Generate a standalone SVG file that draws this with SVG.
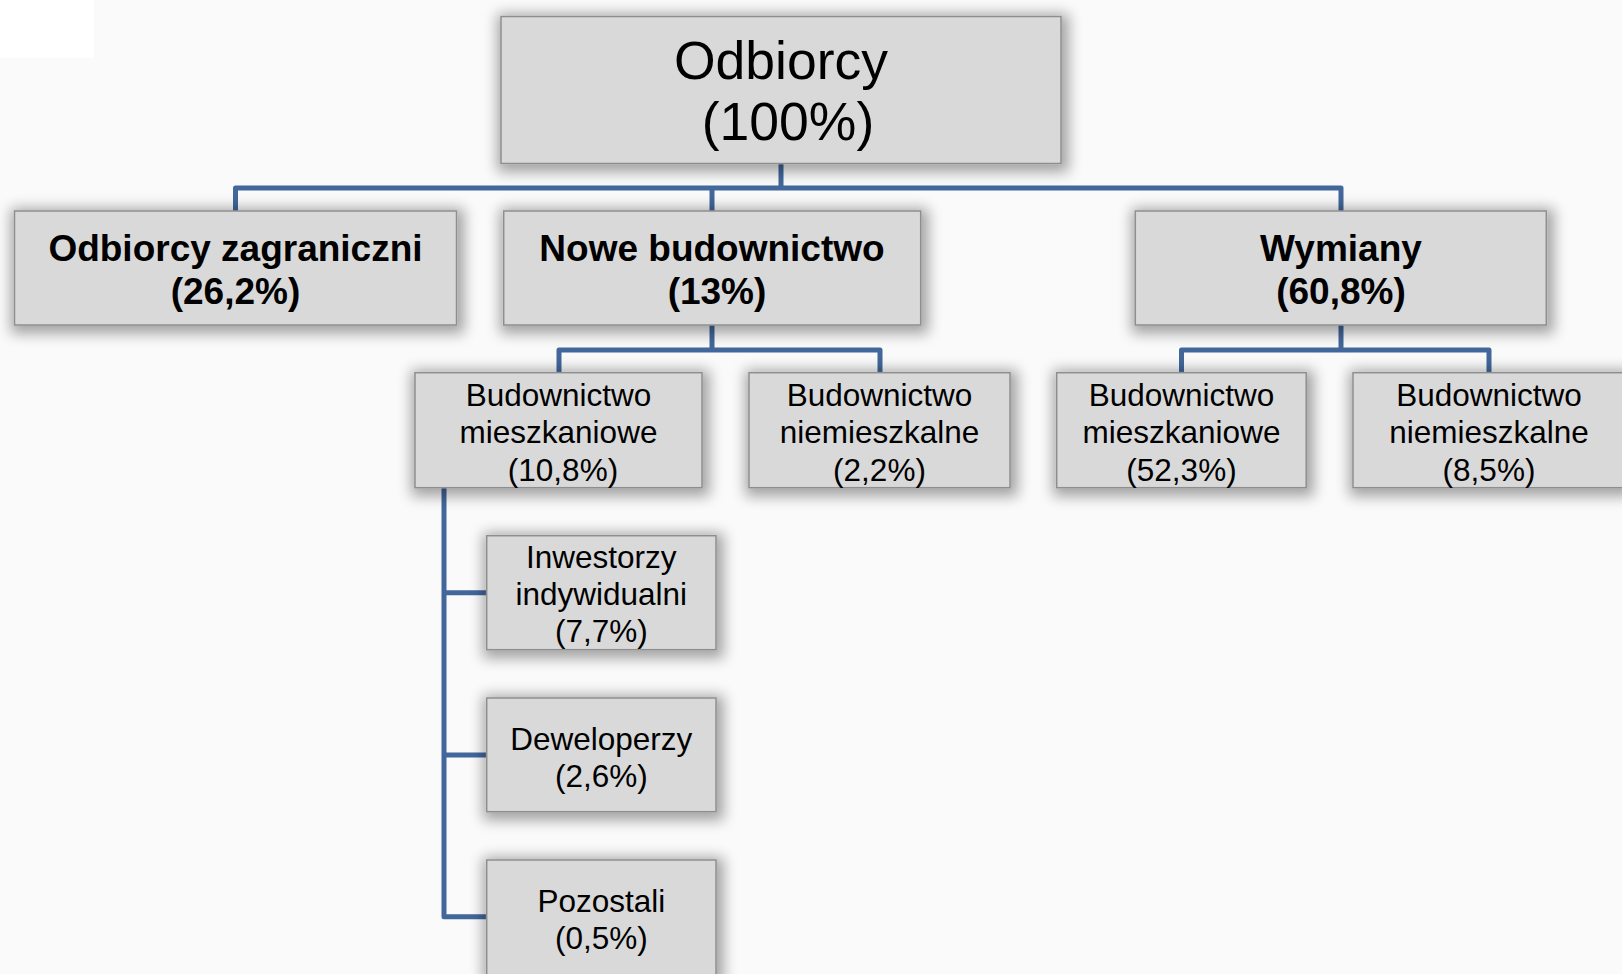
<svg xmlns="http://www.w3.org/2000/svg" width="1622" height="974" viewBox="0 0 1622 974">
<style>
.box{fill:#d9d9d9;stroke:#8e8e8e;stroke-width:1.5;filter:url(#glow)}
.t{font-family:"Liberation Sans",Arial,sans-serif;fill:#000;text-anchor:middle}
.t0{font-size:53.5px}
.t1{font-size:37px;font-weight:bold}
.t2{font-size:31.5px}
.c{fill:none;stroke:#41679b;stroke-width:5;stroke-linejoin:round;stroke-linecap:butt}
</style>
<defs>
<filter id="glow" x="-20%" y="-30%" width="140%" height="160%">
<feMorphology in="SourceAlpha" operator="dilate" radius="5" result="d"/>
<feGaussianBlur in="d" stdDeviation="7" result="b"/>
<feOffset in="b" dx="2" dy="3" result="o"/>
<feComponentTransfer in="o" result="s"><feFuncA type="linear" slope="0.35"/></feComponentTransfer>
<feMerge><feMergeNode in="s"/><feMergeNode in="SourceGraphic"/></feMerge>
</filter>
</defs>
<rect x="0" y="0" width="1622" height="974" fill="#fafafa"/>
<rect x="0" y="0" width="94" height="58" fill="#ffffff"/>
<g id="connectors">
<path class="c" d="M781 163 V188"/>
<path class="c" d="M235.5 211 V188 H1341 V211"/>
<path class="c" d="M712 188 V211"/>
<path class="c" d="M712 325 V350"/>
<path class="c" d="M559 372.7 V350 H880 V372.7"/>
<path class="c" d="M1341 325 V350"/>
<path class="c" d="M1181.5 372.7 V350 H1489 V372.7"/>
<path class="c" d="M444 487.7 V916.7 H486.7"/>
<path class="c" d="M444 592.7 H486.7"/>
<path class="c" d="M444 755 H486.7"/>
</g>
<g id="root">
<rect class="box" x="501" y="16.5" width="560" height="147"/>
<text class="t t0" x="781" y="79">Odbiorcy</text>
<text class="t t0" x="788" y="140">(100%)</text>
</g>
<g id="zagraniczni">
<rect class="box" x="14.5" y="211" width="442" height="114"/>
<text class="t t1" x="235.5" y="261">Odbiorcy zagraniczni</text>
<text class="t t1" x="235.5" y="304">(26,2%)</text>
</g>
<g id="nowe">
<rect class="box" x="503.7" y="211" width="417" height="114"/>
<text class="t t1" x="712" y="261">Nowe budownictwo</text>
<text class="t t1" x="717" y="304">(13%)</text>
</g>
<g id="wymiany">
<rect class="box" x="1135.3" y="211" width="411" height="114"/>
<text class="t t1" x="1341" y="261">Wymiany</text>
<text class="t t1" x="1341" y="304">(60,8%)</text>
</g>
<g id="nowe-mieszkaniowe">
<rect class="box" x="415" y="372.7" width="287" height="115"/>
<text class="t t2" x="558.5" y="405.5">Budownictwo</text>
<text class="t t2" x="558.5" y="443">mieszkaniowe</text>
<text class="t t2" x="563" y="480.5">(10,8%)</text>
</g>
<g id="nowe-niemieszkalne">
<rect class="box" x="749" y="372.7" width="261" height="115"/>
<text class="t t2" x="879.5" y="405.5">Budownictwo</text>
<text class="t t2" x="879.5" y="443">niemieszkalne</text>
<text class="t t2" x="879.5" y="480.5">(2,2%)</text>
</g>
<g id="wymiany-mieszkaniowe">
<rect class="box" x="1056.7" y="372.7" width="249.5" height="115"/>
<text class="t t2" x="1181.5" y="405.5">Budownictwo</text>
<text class="t t2" x="1181.5" y="443">mieszkaniowe</text>
<text class="t t2" x="1181.5" y="480.5">(52,3%)</text>
</g>
<g id="wymiany-niemieszkalne">
<rect class="box" x="1353" y="372.7" width="272" height="115"/>
<text class="t t2" x="1489" y="405.5">Budownictwo</text>
<text class="t t2" x="1489" y="443">niemieszkalne</text>
<text class="t t2" x="1489" y="480.5">(8,5%)</text>
</g>
<g id="inwestorzy">
<rect class="box" x="486.7" y="535.7" width="229.3" height="114"/>
<text class="t t2" x="601.3" y="568.2">Inwestorzy</text>
<text class="t t2" x="601.3" y="605">indywidualni</text>
<text class="t t2" x="601.3" y="642">(7,7%)</text>
</g>
<g id="deweloperzy">
<rect class="box" x="486.7" y="698" width="229.3" height="113.7"/>
<text class="t t2" x="601.3" y="749.8">Deweloperzy</text>
<text class="t t2" x="601.3" y="787">(2,6%)</text>
</g>
<g id="pozostali">
<rect class="box" x="486.7" y="860" width="229.3" height="116"/>
<text class="t t2" x="601.3" y="911.5">Pozostali</text>
<text class="t t2" x="601.3" y="948.5">(0,5%)</text>
</g>
</svg>
